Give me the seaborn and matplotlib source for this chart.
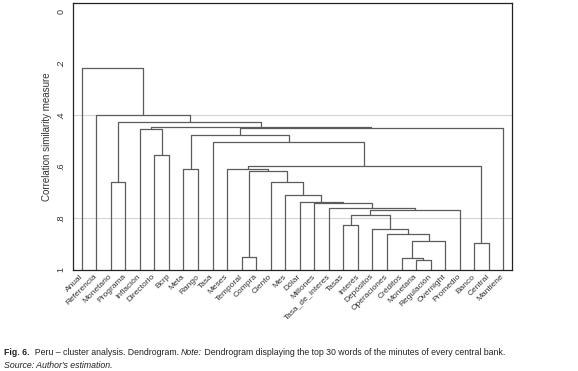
import matplotlib
matplotlib.use("Agg")
import matplotlib.pyplot as plt
import pandas as pd
import seaborn as sns

# leaf order along the x axis
leaves = [
    "Anual", "Referencia", "Monetario", "Programa", "Inflación", "Directorio",
    "Bcrp", "Meta", "Rango", "Tasa", "Meses", "Temporal", "Compra", "Ciento",
    "Mes", "Dólar", "Millones", "Tasa_de_interes", "Tasas", "Interés",
    "Depósitos", "Operaciones", "Créditos", "Monetaria", "Regulación",
    "Overnight", "Promedio", "Banco", "Central", "Mantiene",
]

# merges (bottom-up): name, left child, right child, similarity level
link_names = [
    "mr", "cr", "tc", "bc", "ov", "op", "de", "ti", "x17", "x16", "x15",
    "x14", "x13", "x12", "x11", "mp", "x10", "mer", "x9", "x8", "db", "x7",
    "x6", "x4", "x5", "x3", "x2", "x1", "root",
]
link_left = [
    "Monetaria", "Créditos", "Temporal", "Banco", "cr", "Operaciones",
    "Depósitos", "Tasas", "ti", "x17", "Tasa_de_interes", "Millones", "Dólar",
    "Mes", "Ciento", "Monetario", "tc", "Meta", "Meses", "x9", "Directorio",
    "Tasa", "mer", "Inflación", "x6", "x4", "mp", "Referencia", "Anual",
]
link_right = [
    "Regulación", "mr", "Compra", "Central", "Overnight", "ov", "op",
    "Interés", "de", "Promedio", "x16", "x15", "x14", "x13", "x12",
    "Programa", "x11", "Rango", "x10", "bc", "Bcrp", "x8", "x7", "db",
    "Mantiene", "x5", "x3", "x2", "x1",
]
link_height = [
    0.962, 0.955, 0.951, 0.897, 0.886, 0.859, 0.843, 0.826, 0.789, 0.770,
    0.761, 0.740, 0.738, 0.712, 0.661, 0.659, 0.618, 0.611, 0.610, 0.599,
    0.557, 0.506, 0.479, 0.456, 0.453, 0.448, 0.429, 0.401, 0.220,
]

y_ticks = [0, 0.2, 0.4, 0.6, 0.8, 1]
y_tick_labels = ["0", ".2", ".4", ".6", ".8", "1"]

# dendrogram layout: leaves sit at level 1, clusters at their merge level
pos = {name: (i, 1.0) for i, name in enumerate(leaves)}
rows = []
for name, left, right, h in zip(link_names, link_left, link_right, link_height):
    xl, yl = pos[left]
    xr, yr = pos[right]
    for px, py in [(xl, yl), (xl, h), (xr, h), (xr, yr)]:
        rows.append({"link": name, "x": px, "y": py})
    pos[name] = ((xl + xr) / 2, h)
segments = pd.DataFrame(rows)

sns.set_style("white")
plt.rcParams["font.family"] = ["Liberation Sans", "DejaVu Sans"]

fig = plt.figure(figsize=(5.78, 3.71), dpi=100)
ax = fig.add_axes([73 / 578, 1 - 270 / 371, 439 / 578, 267 / 371])

for g in [0.4, 0.8]:
    ax.axhline(g, color="#d4d4d4", lw=0.8, zorder=0)

sns.lineplot(
    data=segments,
    x="x",
    y="y",
    units="link",
    estimator=None,
    sort=False,
    color="#5c5c5c",
    lw=0.9,
    legend=False,
    ax=ax
)

ax.set_xlim(-0.6, 29.6)
ax.set_ylim(1.0, -0.032)

ax.set_xticks(range(len(leaves)))
ax.set_xticklabels(
    leaves,
    rotation=45,
    ha="right",
    va="center",
    rotation_mode="anchor",
    fontsize=6,
    color="#333333"
)
ax.tick_params(axis="x", length=0, pad=4)

ax.set_yticks(y_ticks)
ax.set_yticklabels(y_tick_labels, rotation=90, va="center", fontsize=6.5,
                   color="#333333")
ax.tick_params(axis="y", length=4, width=0.8, pad=1.5, color="#222222")

ax.set_xlabel("")
ax.set_ylabel("Correlation similarity measure", fontsize=7, color="#333333",
              labelpad=3)

for s in ax.spines.values():
    s.set_visible(True)
    s.set_color("#222222")
    s.set_linewidth(0.9)

# caption, pieced together in mixed weights
cap = ["Liberation Sans Narrow", "Liberation Sans", "DejaVu Sans"]
t = fig.text(4 / 578, 1 - 357 / 371, "Fig. 6.", fontsize=6.3, weight="bold",
             family=cap, va="bottom", color="#222222")
pieces = [
    ("  Peru – cluster analysis. Dendrogram. ", "normal"),
    ("Note:", "italic"),
    (" Dendrogram displaying the top 30 words of the minutes of every central bank.", "normal"),
]
for txt, style in pieces:
    t = ax.annotate(txt, xy=(1, 0), xycoords=t, va="bottom", ha="left",
                    fontsize=6.3, style=style, family=cap, color="#222222",
                    annotation_clip=False)
fig.text(4 / 578, 1 - 370 / 371, "Source: Author's estimation.", fontsize=6.3,
         style="italic", family=cap, va="bottom", color="#222222")

fig.savefig("out.png", dpi=100, facecolor="white")
